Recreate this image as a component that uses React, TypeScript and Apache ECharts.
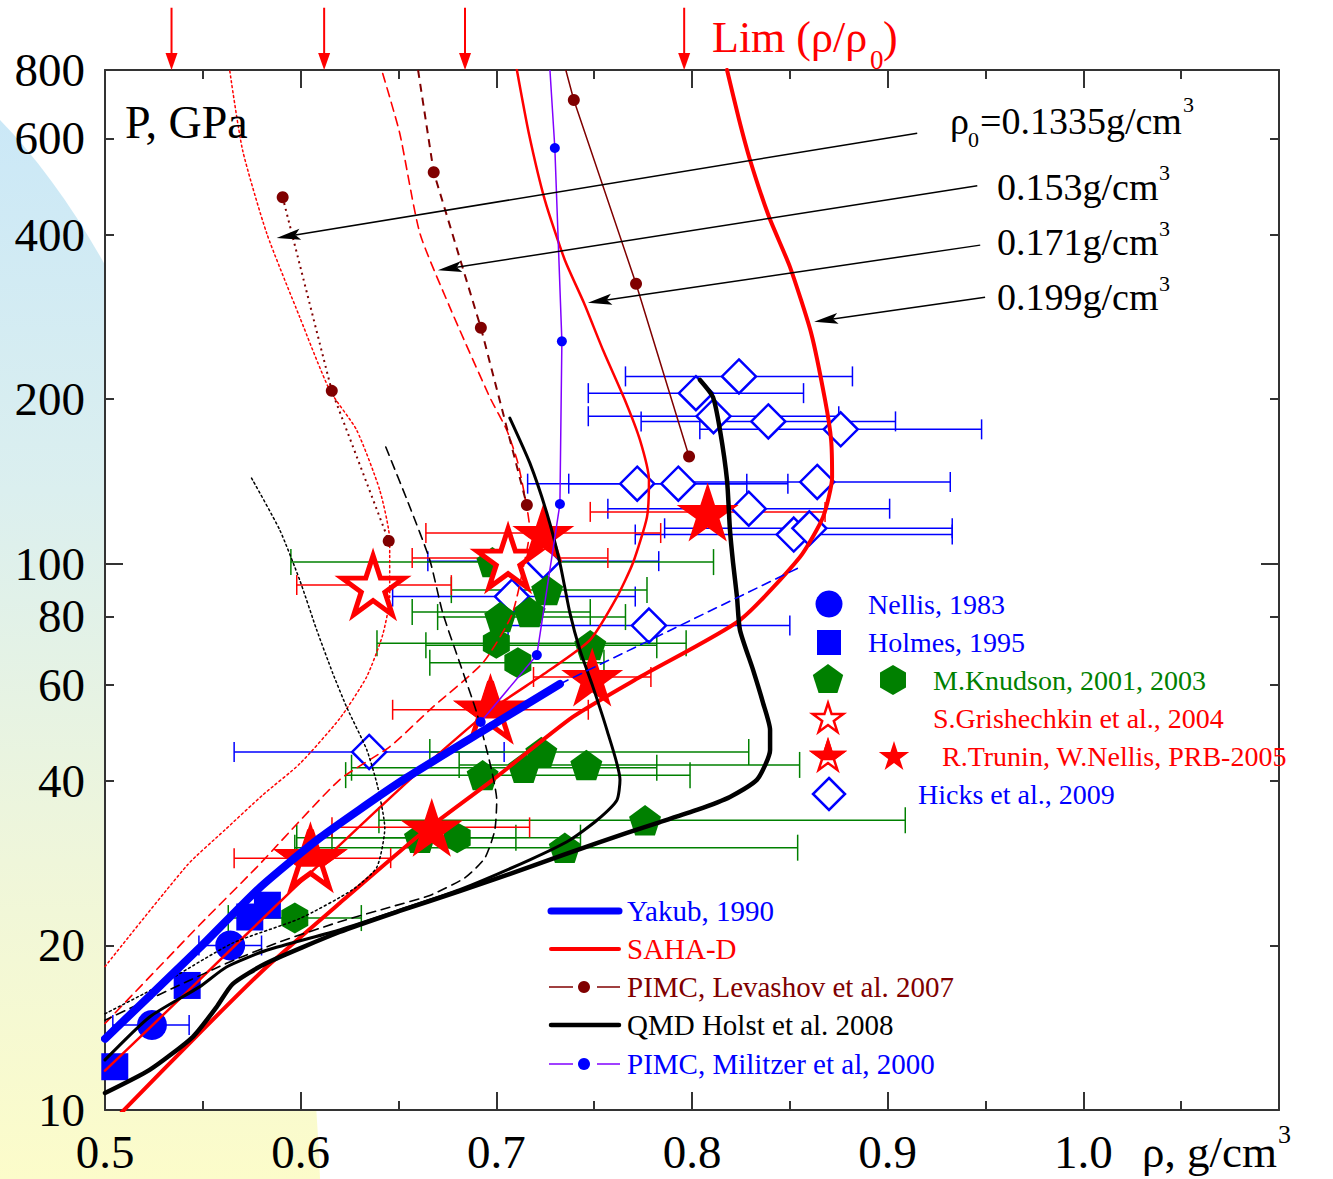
import { useEffect, useRef } from 'react';
import * as echarts from 'echarts';

const SERIF = '"Liberation Serif", "Times New Roman", Times, serif';
const BLUE = '#0000ff';
const RED = '#ff0000';
const GREEN = '#008000';
const DRED = '#800000';
const PURPLE = '#8000ff';
const BLACK = '#000000';
const AXIS = '#333333';

// ---- axes ----
const xMin = 0.5;
const xMax = 1.1;
const xStep = 0.1;
const yMin = 10;
const yMax = 800;
const yLabelValues = [10, 20, 40, 60, 80, 100, 200, 400, 600, 800];
const yMajorTicks = [10, 100];
const yMinorTicks = [20, 40, 60, 80, 200, 400, 600, 800];

// ---- model curves [rho, P] ----
const yakub = [[0.5, 13.5], [0.5483, 19.8], [0.579, 25.5], [0.6097, 31.45], [0.6506, 39.8], [0.6915, 49.0], [0.7325, 60.2]];
const yakubExt = [[0.7325, 60.2], [0.8552, 98.5]];

const saha1335 = [[0.5, 18.3], [0.5422, 28.1], [0.5611, 32.5], [0.5806, 37.7], [0.5995, 43.0], [0.6199, 52.0], [0.6337, 62.0], [0.6419, 74.0], [0.6455, 86.8], [0.6455, 110.4], [0.6404, 136.3], [0.6286, 175.5], [0.6148, 207.7], [0.5995, 282.5], [0.5826, 402.5], [0.5703, 571], [0.5637, 800]];
const saha153 = [[0.5, 14.4], [0.5483, 21.8], [0.5775, 27.8], [0.6199, 40.2], [0.6455, 46.2], [0.6675, 54.6], [0.6931, 65.8], [0.7079, 80.5], [0.7146, 101.5], [0.7171, 115.2], [0.7156, 126.9], [0.711, 152.8], [0.7053, 175.5], [0.6966, 201.7], [0.6762, 294.6], [0.6609, 402.5], [0.6506, 613.4], [0.6414, 800]];
const saha171 = [[0.5, 11.8], [0.5483, 17.3], [0.5959, 25.3], [0.6557, 40.2], [0.6951, 53.3], [0.7258, 63.3], [0.7478, 72.4], [0.7616, 86.8], [0.7698, 100.2], [0.777, 121.7], [0.778, 142.1], [0.7734, 168.3], [0.7657, 199.2], [0.7545, 245.9], [0.7448, 299.7], [0.735, 359.3], [0.7248, 462.5], [0.7166, 613], [0.7105, 800]];
const saha199 = [[0.5085, 9.9], [0.5483, 13.83], [0.5826, 18.27], [0.6199, 23.9], [0.6609, 31.9], [0.6982, 40.2], [0.7391, 52.4], [0.7734, 62.0], [0.8245, 78.8], [0.8552, 102.8], [0.8670, 121.7], [0.8716, 143.9], [0.8711, 168.3], [0.8680, 199.2], [0.8609, 264], [0.8501, 348.7], [0.8394, 430.5], [0.8297, 547], [0.8240, 650], [0.8179, 800]];

const qmd199 = [[0.5, 10.74], [0.5228, 11.84], [0.5448, 13.6], [0.557, 15.43], [0.5652, 17.0], [0.5826, 18.58], [0.6199, 21.17], [0.6506, 23.13], [0.6813, 25.16], [0.7171, 27.84], [0.7514, 30.8], [0.7821, 33.5], [0.8025, 35.4], [0.8194, 37.4], [0.8332, 40.2], [0.8399, 45.6], [0.8399, 49.6], [0.8363, 55.6], [0.8312, 63.9], [0.8245, 75.6], [0.823, 86.8], [0.821, 100.2], [0.8194, 115.2], [0.8179, 142.1], [0.8143, 175.5], [0.8107, 201.7], [0.8041, 216.7]];
const qmd171 = [[0.5, 12.35], [0.5228, 14.8], [0.5483, 16.8], [0.5621, 18.27], [0.5826, 19.6], [0.6199, 21.35], [0.6506, 23.2], [0.6813, 25.3], [0.7171, 28.7], [0.7376, 31.2], [0.7514, 33.9], [0.7616, 36.9], [0.7632, 40.2], [0.7565, 49.6], [0.7494, 59.4], [0.7427, 69.5], [0.7376, 81.2], [0.7325, 100.2], [0.7258, 123.7], [0.7171, 152.8], [0.7069, 184.6]];
const qmd153 = [[0.6435, 163.4], [0.6558, 126.9], [0.666, 101.5], [0.6726, 81.2], [0.6813, 65.8], [0.69, 53.3], [0.6967, 43.2], [0.7002, 36.9], [0.6992, 32.5], [0.6941, 28.9], [0.6839, 26.6], [0.666, 24.7], [0.6455, 23.5], [0.6199, 22.1], [0.5892, 20.3], [0.5637, 18.66], [0.5381, 16.93], [0.5, 14.6]];
const qmd1335 = [[0.5749, 143.3], [0.5893, 115.2], [0.5995, 93.3], [0.6082, 75.6], [0.6164, 63.0], [0.6235, 54.6], [0.6338, 45.6], [0.6394, 39.0], [0.643, 32.8], [0.6389, 27.8], [0.6266, 25.3], [0.5995, 22.4], [0.5652, 20.2], [0.5279, 16.9], [0.5, 15.0]];

// PIMC Levashov (first value of 153/171 is where the line leaves the frame)
const levashov1335 = [[0.5908, 468], [0.6159, 207], [0.645, 110]];
const levashov153 = [[0.66, 800], [0.668, 520], [0.6921, 270], [0.7156, 128]];
const levashov171 = [[0.7355, 800], [0.7396, 705], [0.7714, 325], [0.7985, 157]];
// PIMC Militzer
const militzer = [[0.7274, 800], [0.7299, 576], [0.7335, 255], [0.7325, 128.5], [0.7207, 68], [0.692, 51.3]];

// ---- experiments [rho, P, rhoLow, rhoHigh] ----
const nellis = [[0.524, 14.3, 0.504, 0.543], [0.564, 20.0, 0.548, 0.58]];
const holmes = [[0.505, 12.0], [0.542, 16.9], [0.574, 22.55], [0.583, 23.7]];
const knudsonPent = [
  [0.698, 100.6, 0.595, 0.811], [0.726, 89.4, 0.677, 0.777], [0.702, 79.8, 0.67, 0.766],
  [0.717, 81.5, 0.657, 0.748], [0.748, 70.9, 0.664, 0.782], [0.693, 41.0, 0.623, 0.799],
  [0.714, 42.3, 0.626, 0.782], [0.723, 45.2, 0.666, 0.829], [0.746, 42.8, 0.681, 0.855],
  [0.776, 33.9, 0.64, 0.909], [0.735, 30.2, 0.597, 0.854], [0.661, 31.5, 0.598, 0.71],
];
const knudsonHex = [[0.7, 71.5, 0.639, 0.797], [0.711, 65.8, 0.666, 0.755], [0.68, 31.5, 0.616, 0.743], [0.597, 22.45, 0.563, 0.631]];
const grishechkin = [[0.637, 91.3, 0.598, 0.677], [0.706, 102.3, 0.657, 0.757]];
const truninHalf = [[0.697, 54.0, 0.647, 0.747], [0.605, 28.9, 0.566, 0.646]];
const truninFull = [[0.724, 113.7, 0.664, 0.784], [0.808, 124.3, 0.748, 0.868], [0.749, 62.0, 0.719, 0.779], [0.667, 32.9, 0.616, 0.717]];
const hicks = [
  [0.824, 220, 0.766, 0.882], [0.802, 205, 0.747, 0.857], [0.811, 186, 0.747, 0.875],
  [0.839, 182, 0.774, 0.904], [0.876, 176, 0.804, 0.948], [0.772, 140, 0.716, 0.828],
  [0.793, 140, 0.737, 0.849], [0.864, 141, 0.796, 0.932], [0.829, 126, 0.757, 0.901],
  [0.852, 113, 0.771, 0.933], [0.86, 116, 0.786, 0.933], [0.724, 101, 0.665, 0.783],
  [0.708, 87, 0.647, 0.771], [0.778, 77, 0.706, 0.85], [0.635, 45.2, 0.566, 0.704],
];

// ---- annotations ----
const limitRho = [0.534, 0.612, 0.684, 0.796];
const limitArrowFromP = 1040;
const limitArrowToP = 800;
const rho0Start = [[0.9151, 613], [0.9458, 491], [0.9473, 382.5], [0.9498, 307]];
const rho0End = [[0.5877, 394], [0.6701, 344], [0.7468, 300], [0.8624, 277]];

// ---- symbol geometry ----
const unitPent = [[0, -1], [0.951, -0.309], [0.588, 0.809], [-0.588, 0.809], [-0.951, -0.309]];
const unitHex = [[0, -1], [0.866, -0.5], [0.866, 0.5], [0, 1], [-0.866, 0.5], [-0.866, -0.5]];
const unitStar = [[0, -1], [0.2245, -0.309], [0.951, -0.309], [0.363, 0.118], [0.588, 0.809], [0, 0.382], [-0.588, 0.809], [-0.363, 0.118], [-0.951, -0.309], [-0.2245, -0.309]];
const unitStarTop = [[0, -1], [0.2245, -0.309], [0.951, -0.309], [0.363, 0.118], [-0.363, 0.118], [-0.951, -0.309], [-0.2245, -0.309]];
const toPath = (pts: number[][]) => 'path://M' + pts.map((p) => p[0] + ',' + p[1]).join('L') + 'Z';
const place = (pts: number[][], cx: number, cy: number, r: number) => pts.map(([x, y]) => [cx + x * r, cy + y * r]);

const PENT = toPath(unitPent);
const HEX = toPath(unitHex);
const STAR = toPath(unitStar);
const STAR_TOP = toPath(unitStarTop);

function curve(data: number[][], color: string, width: number, type: any, z = 4, smooth: any = 0.2) {
  return {
    type: 'line', data, symbol: 'none', showSymbol: false, smooth, z, silent: true,
    lineStyle: { color, width, type, cap: 'round', join: 'round', opacity: 1 },
  };
}

function pimc(data: number[][], lineColor: string, dotColor: string, width: number, type: any, dotSize: number, skipFirst: boolean) {
  return {
    type: 'line', z: 5, silent: true, showSymbol: true, showAllSymbol: true, symbol: 'circle', symbolSize: dotSize,
    itemStyle: { color: dotColor, opacity: 1 }, lineStyle: { color: lineColor, width, type, opacity: 1 },
    data: data.map((d, i) => (skipFirst && i === 0 ? { value: d, symbol: 'none' } : { value: d })),
  };
}

function errorBars(data: number[][], color: string, cap: number, width = 1.5) {
  return {
    type: 'custom', z: 2, silent: true,
    data: data.map((d) => [d[2], d[3], d[1]]),
    encode: { x: [0, 1], y: 2 },
    renderItem: (_p: any, api: any) => {
      const lo = api.coord([api.value(0), api.value(2)]);
      const hi = api.coord([api.value(1), api.value(2)]);
      const h = cap / 2;
      const style = { stroke: color, lineWidth: width };
      return {
        type: 'group', children: [
          { type: 'line', shape: { x1: lo[0], y1: lo[1], x2: hi[0], y2: hi[1] }, style },
          { type: 'line', shape: { x1: lo[0], y1: lo[1] - h, x2: lo[0], y2: lo[1] + h }, style },
          { type: 'line', shape: { x1: hi[0], y1: hi[1] - h, x2: hi[0], y2: hi[1] + h }, style },
        ],
      };
    },
  };
}

function arrows(starts: number[][], ends: number[][], color: string, width: number, L: number, W: number, notch: number) {
  return {
    type: 'custom', z: 6, silent: true, clip: false,
    data: starts.map((s, i) => [s[0], s[1], ends[i][0], ends[i][1]]),
    encode: { x: [0, 2], y: [1, 3] },
    renderItem: (_p: any, api: any) => {
      const a = api.coord([api.value(0), api.value(1)]);
      const b = api.coord([api.value(2), api.value(3)]);
      const dx = b[0] - a[0];
      const dy = b[1] - a[1];
      const len = Math.hypot(dx, dy);
      const ux = dx / len, uy = dy / len;
      const nx = -uy, ny = ux;
      const bx = b[0] - L * ux, by = b[1] - L * uy;
      const mx = b[0] - notch * ux, my = b[1] - notch * uy;
      return {
        type: 'group', children: [
          { type: 'line', shape: { x1: a[0], y1: a[1], x2: mx, y2: my }, style: { stroke: color, lineWidth: width } },
          { type: 'polygon', shape: { points: [[b[0], b[1]], [bx + W * nx, by + W * ny], [mx, my], [bx - W * nx, by - W * ny]] }, style: { fill: color } },
        ],
      };
    },
  };
}

function scatter(data: number[][], symbol: string, size: any, itemStyle: any, z = 3, offset: any = undefined) {
  return {
    type: 'scatter', z, silent: true, symbol, symbolSize: size, symbolOffset: offset,
    data: data.map((d) => [d[0], d[1]]), itemStyle: { opacity: 1, ...itemStyle },
  };
}

function txt(x: number, y: number, text: string, size: number, color = BLACK) {
  return {
    type: 'text', x, y, silent: true, z: 10,
    style: { text, fill: color, fontSize: size, fontFamily: SERIF, align: 'left', verticalAlign: 'middle' },
  };
}

function yAxisDef(position: string, ticks: number[], len: number, line: boolean, labels: boolean) {
  return {
    type: 'log', logBase: 10, min: yMin, max: yMax, position,
    axisLine: { show: line, onZero: false, lineStyle: { color: AXIS, width: 2 } },
    axisTick: { show: true, inside: true, length: len, customValues: ticks, lineStyle: { color: AXIS, width: 2 } },
    axisLabel: labels
      ? { show: true, customValues: yLabelValues, fontSize: 47, fontFamily: SERIF, color: BLACK, margin: 20 }
      : { show: false },
    splitLine: { show: false }, minorTick: { show: false }, minorSplitLine: { show: false },
  };
}

function xAxisDef(position: string, labels: boolean) {
  return {
    type: 'value', min: xMin, max: xMax, interval: xStep, position,
    axisLine: { show: true, onZero: false, lineStyle: { color: AXIS, width: 2 } },
    axisTick: { show: true, inside: true, length: 18, lineStyle: { color: AXIS, width: 2 } },
    minorTick: { show: true, splitNumber: 2, length: 9, lineStyle: { color: AXIS, width: 2 } },
    axisLabel: labels
      ? {
        show: true, fontSize: 47, fontFamily: SERIF, color: BLACK, margin: 18, showMinLabel: true, showMaxLabel: true,
        formatter: (v: number) => (Math.abs(v - xMax) < 1e-6 ? '' : v.toFixed(1)),
      }
      : { show: false },
    splitLine: { show: false }, minorSplitLine: { show: false },
  };
}

function buildGraphics() {
  const g: any[] = [];
  g.push({
    type: 'ellipse', silent: true, z: -10,
    shape: { cx: -200, cy: 1317, rx: 523, ry: 1295 },
    style: {
      fill: new echarts.graphic.LinearGradient(0, 120, 0, 1179, [
        { offset: 0, color: '#cbe8f7' },
        { offset: 0.35, color: '#dbefef' },
        { offset: 0.7, color: '#eff6da' },
        { offset: 1, color: '#fcfcca' },
      ], true),
    },
  });
  g.push({ type: 'rect', silent: true, z: -9, shape: { x: 105, y: 70, width: 1174, height: 1040 }, style: { fill: '#ffffff' } });

  // titles and annotations
  g.push(txt(125, 122, 'P, GPa', 46));
  g.push(txt(712, 37, 'Lim (ρ/ρ', 44, RED));
  g.push(txt(870, 60, '0', 27, RED));
  g.push(txt(883, 37, ')', 44, RED));
  g.push(txt(950, 121, 'ρ', 38));
  g.push(txt(968, 139, '0', 22));
  g.push(txt(980, 121, '=0.1335g/cm', 38));
  g.push(txt(1183, 104, '3', 22));
  g.push(txt(997, 187, '0.153g/cm', 38));
  g.push(txt(1159, 172, '3', 22));
  g.push(txt(997, 242, '0.171g/cm', 38));
  g.push(txt(1159, 228, '3', 22));
  g.push(txt(997, 297, '0.199g/cm', 38));
  g.push(txt(1159, 283, '3', 22));
  g.push(txt(1142, 1152, 'ρ, g/cm', 45));
  g.push(txt(1278, 1134, '3', 26));

  // right legend
  g.push({ type: 'circle', silent: true, z: 10, shape: { cx: 829, cy: 604, r: 13.5 }, style: { fill: BLUE } });
  g.push({ type: 'rect', silent: true, z: 10, shape: { x: 817, y: 630, width: 24, height: 25 }, style: { fill: BLUE } });
  g.push({ type: 'polygon', silent: true, z: 10, shape: { points: place(unitPent, 828, 680, 16) }, style: { fill: GREEN } });
  g.push({ type: 'polygon', silent: true, z: 10, shape: { points: place(unitHex, 893, 680, 15) }, style: { fill: GREEN } });
  g.push({ type: 'polygon', silent: true, z: 10, shape: { points: place(unitStar, 828, 719, 16) }, style: { fill: '#fff', stroke: RED, lineWidth: 2.5 } });
  g.push({ type: 'polygon', silent: true, z: 10, shape: { points: place(unitStar, 828, 757, 16) }, style: { fill: '#fff', stroke: RED, lineWidth: 2.5 } });
  g.push({ type: 'polygon', silent: true, z: 11, shape: { points: place(unitStarTop, 828, 757, 16) }, style: { fill: RED, stroke: RED, lineWidth: 2.5 } });
  g.push({ type: 'polygon', silent: true, z: 10, shape: { points: place(unitStar, 894, 757, 16) }, style: { fill: RED } });
  g.push({ type: 'polygon', silent: true, z: 10, shape: { points: [[829, 778], [845, 794], [829, 810], [813, 794]] }, style: { fill: '#fff', stroke: BLUE, lineWidth: 2.5 } });
  g.push(txt(868, 604, 'Nellis, 1983', 28, BLUE));
  g.push(txt(868, 642, 'Holmes, 1995', 28, BLUE));
  g.push(txt(933, 680, 'M.Knudson, 2001, 2003', 28, GREEN));
  g.push(txt(933, 718, 'S.Grishechkin et al., 2004', 28, RED));
  g.push(txt(942, 756, 'R.Trunin, W.Nellis, PRB-2005', 28, RED));
  g.push(txt(918, 794, 'Hicks et al., 2009', 28, BLUE));

  // bottom legend
  const lx1 = 551, lx2 = 619, tx = 627;
  g.push({ type: 'line', silent: true, z: 10, shape: { x1: lx1, y1: 911, x2: lx2, y2: 911 }, style: { stroke: BLUE, lineWidth: 7, lineCap: 'round' } });
  g.push({ type: 'line', silent: true, z: 10, shape: { x1: lx1, y1: 949, x2: lx2, y2: 949 }, style: { stroke: RED, lineWidth: 4, lineCap: 'round' } });
  g.push({ type: 'line', silent: true, z: 10, shape: { x1: 549, y1: 987, x2: 573, y2: 987 }, style: { stroke: DRED, lineWidth: 1.5 } });
  g.push({ type: 'line', silent: true, z: 10, shape: { x1: 597, y1: 987, x2: 620, y2: 987 }, style: { stroke: DRED, lineWidth: 1.5 } });
  g.push({ type: 'circle', silent: true, z: 10, shape: { cx: 584, cy: 987, r: 6 }, style: { fill: DRED } });
  g.push({ type: 'line', silent: true, z: 10, shape: { x1: lx1, y1: 1025, x2: lx2, y2: 1025 }, style: { stroke: BLACK, lineWidth: 4.5, lineCap: 'round' } });
  g.push({ type: 'line', silent: true, z: 10, shape: { x1: 549, y1: 1064, x2: 573, y2: 1064 }, style: { stroke: PURPLE, lineWidth: 1.5 } });
  g.push({ type: 'line', silent: true, z: 10, shape: { x1: 597, y1: 1064, x2: 620, y2: 1064 }, style: { stroke: PURPLE, lineWidth: 1.5 } });
  g.push({ type: 'circle', silent: true, z: 10, shape: { cx: 584, cy: 1064, r: 6 }, style: { fill: BLUE } });
  g.push(txt(tx, 911, 'Yakub, 1990', 29, BLUE));
  g.push(txt(tx, 949, 'SAHA-D', 29, RED));
  g.push(txt(tx, 987, 'PIMC, Levashov et al. 2007', 29, DRED));
  g.push(txt(tx, 1025, 'QMD Holst et al. 2008', 29, BLACK));
  g.push(txt(tx, 1064, 'PIMC, Militzer et al, 2000', 29, BLUE));
  return g;
}

function buildOption() {
  const starW = 62;
  const starH = starW * 1.809 / 1.902;
  const halfW = 60;
  const halfH = halfW * 1.809 / 1.902;
  const halfTopH = halfW * 1.118 / 1.902;
  const halfOff = -0.3455 * (halfW / 1.902);

  const series: any[] = [
    // error bars
    errorBars(hicks, BLUE, 20),
    errorBars(knudsonPent, GREEN, 26),
    errorBars(knudsonHex, GREEN, 26),
    errorBars(nellis, BLUE, 20),
    errorBars(grishechkin, RED, 20),
    errorBars(truninHalf, RED, 20),
    errorBars(truninFull, RED, 20),
    // markers
    scatter(hicks, 'diamond', [34, 34], { color: '#ffffff', borderColor: BLUE, borderWidth: 2.5 }),
    scatter(knudsonPent, PENT, [32, 30.4], { color: GREEN }),
    scatter(knudsonHex, HEX, [27, 31], { color: GREEN }),
    scatter(nellis, 'circle', 30, { color: BLUE }),
    scatter(holmes, 'rect', 27, { color: BLUE }),
    scatter(grishechkin, STAR, [starW, starH], { color: '#ffffff', borderColor: RED, borderWidth: 5 }),
    scatter(truninHalf, STAR, [halfW, halfH], { color: '#ffffff', borderColor: RED, borderWidth: 5 }),
    scatter(truninHalf, STAR_TOP, [halfW, halfTopH], { color: RED, borderColor: RED, borderWidth: 5 }, 3, [0, halfOff]),
    scatter(truninFull, STAR, [starW, starH], { color: RED }),
    // theory curves
    curve(saha1335, RED, 1.5, [2, 3]),
    curve(saha153, RED, 1.6, [9, 6]),
    curve(saha171, RED, 2.5, 'solid'),
    curve(saha199, RED, 4, 'solid'),
    curve(qmd1335, BLACK, 1.5, [2, 3]),
    curve(qmd153, BLACK, 1.6, [9, 6]),
    curve(qmd171, BLACK, 3, 'solid'),
    curve(qmd199, BLACK, 4.5, 'solid'),
    curve(yakubExt, BLUE, 1.6, [9, 6], 4, false),
    curve(yakub, BLUE, 8, 'solid'),
    pimc(levashov1335, DRED, DRED, 2, [2, 4], 12, false),
    pimc(levashov153, DRED, DRED, 2, [8, 6], 12, true),
    pimc(levashov171, DRED, DRED, 1.5, 'solid', 12, true),
    pimc(militzer, PURPLE, BLUE, 1.5, 'solid', 10, true),
    // arrows
    arrows(rho0Start, rho0End, BLACK, 1.5, 24, 5.5, 19),
    arrows(limitRho.map((r) => [r, limitArrowFromP]), limitRho.map((r) => [r, limitArrowToP]), RED, 2, 17, 6, 17),
  ];

  return {
    animation: false,
    backgroundColor: '#ffffff',
    grid: { left: 105, right: 54, top: 70, bottom: 69, show: true, backgroundColor: '#ffffff', borderWidth: 0, containLabel: false, outerBoundsMode: 'none' },
    xAxis: [xAxisDef('bottom', true), xAxisDef('top', false)],
    yAxis: [
      yAxisDef('left', yMajorTicks, 18, true, true),
      yAxisDef('left', yMinorTicks, 9, false, false),
      yAxisDef('right', yMajorTicks, 18, true, false),
      yAxisDef('right', yMinorTicks, 9, false, false),
    ],
    graphic: buildGraphics(),
    series: series.map((s) => ({ xAxisIndex: 0, yAxisIndex: 0, ...s })),
  };
}

export default function App() {
  const ref = useRef<HTMLDivElement>(null);
  useEffect(() => {
    const chart = echarts.init(ref.current as HTMLDivElement, null, { renderer: 'svg' });
    chart.setOption(buildOption() as any);
    return () => chart.dispose();
  }, []);
  return <div ref={ref} style={{ position: 'fixed', left: 0, top: 0, width: 1333, height: 1179, background: '#ffffff' }} />;
}
